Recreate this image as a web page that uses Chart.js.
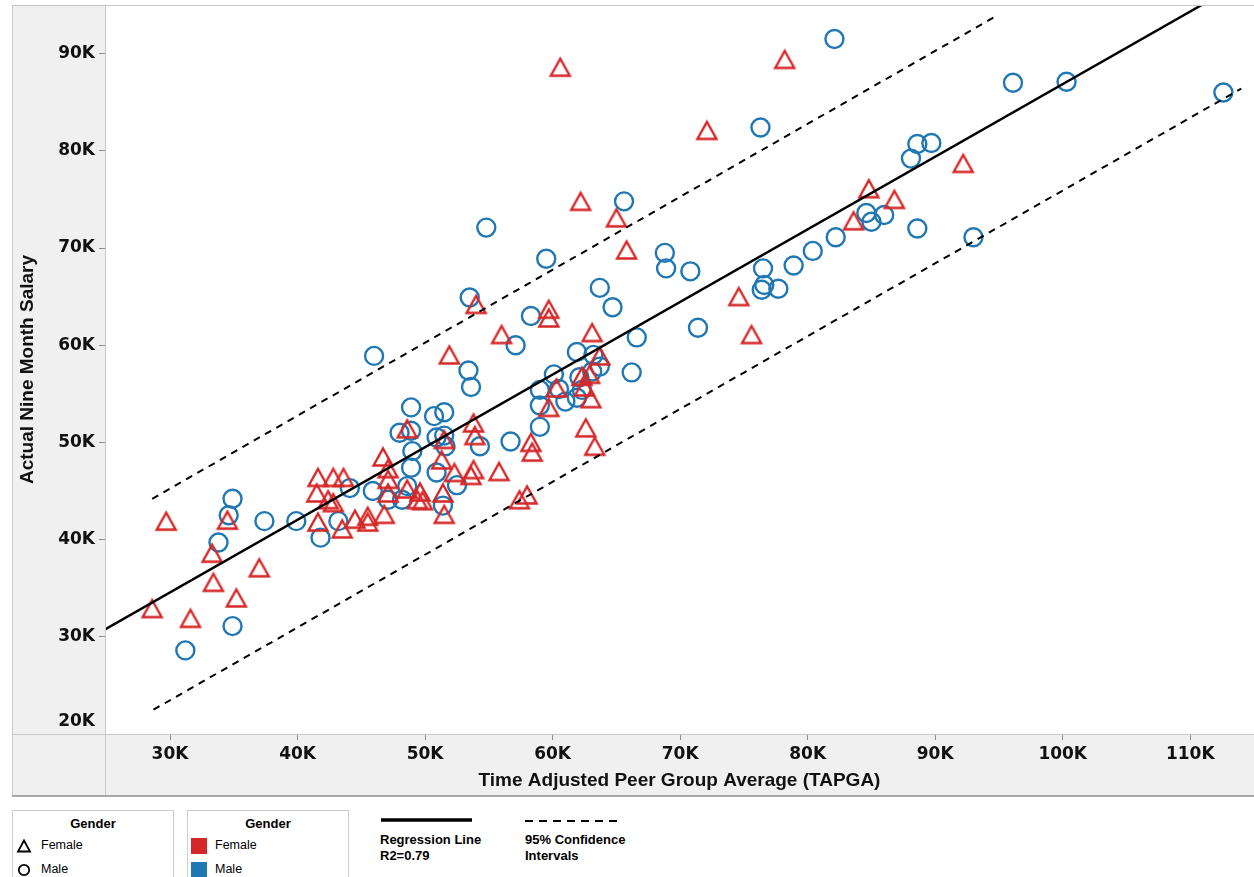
<!DOCTYPE html>
<html>
<head>
<meta charset="utf-8">
<script src="https://cdn.jsdelivr.net/npm/chart.js@4.4.1/dist/chart.umd.min.js"></script>
<style>
  html, body { margin: 0; padding: 0; background: #fff; }
  body { width: 1254px; height: 877px; position: relative; overflow: hidden; font-family: "Liberation Sans", Arial, sans-serif; color: #000; }
  #wrap { position: absolute; left: 12px; top: 5px; width: 1242px; height: 792px; }
  .box { position: absolute; top: 810px; width: 160px; height: 80px; border: 1px solid #cfcfcf; background: #fff; }
  .box .hd { position: absolute; top: 5px; left: 0; width: 100%; text-align: center; font-weight: bold; font-size: 13px; }
  .row { position: absolute; left: 0; font-size: 12.5px; }
  .row svg, .row span.sw { position: absolute; }
  .row .lb { position: absolute; white-space: nowrap; }
  .lg { position: absolute; font-weight: bold; font-size: 13px; line-height: 16px; }
</style>
</head>
<body>
<div id="wrap"><canvas id="grafica"></canvas></div>

<div class="box" style="left:12px;">
  <div class="hd">Gender</div>
  <div class="row" style="top:27px;">
    <svg width="16" height="14" style="left:3px;top:1px;"><path d="M8 1.5 L14 12.5 L2 12.5 Z" fill="none" stroke="#000" stroke-width="1.8"/></svg>
    <span class="lb" style="left:28px;top:0;">Female</span>
  </div>
  <div class="row" style="top:51px;">
    <svg width="16" height="14" style="left:3px;top:1px;"><circle cx="8" cy="7" r="5.2" fill="none" stroke="#000" stroke-width="1.8"/></svg>
    <span class="lb" style="left:28px;top:0;">Male</span>
  </div>
</div>

<div class="box" style="left:187px;">
  <div class="hd">Gender</div>
  <div class="row" style="top:27px;">
    <span class="sw" style="left:3px;top:0;width:16px;height:16px;background:#d62728;"></span>
    <span class="lb" style="left:27px;top:0;">Female</span>
  </div>
  <div class="row" style="top:51px;">
    <span class="sw" style="left:3px;top:0;width:16px;height:16px;background:#1f77b4;"></span>
    <span class="lb" style="left:27px;top:0;">Male</span>
  </div>
</div>

<svg style="position:absolute;left:380px;top:815px;" width="100" height="10"><line x1="1" y1="5" x2="92" y2="5" stroke="#000" stroke-width="3.5"/></svg>
<div class="lg" style="left:380px;top:832px;">Regression Line<br>R2=0.79</div>

<svg style="position:absolute;left:525px;top:815px;" width="100" height="10"><line x1="0" y1="6" x2="94" y2="6" stroke="#000" stroke-width="2" stroke-dasharray="8,6"/></svg>
<div class="lg" style="left:525px;top:832px;">95% Confidence<br>Intervals</div>

<script>
// valores en miles (K)
const femaleX = [28.6, 29.7, 31.6, 33.3, 33.4, 34.5, 35.2, 37.0, 41.6, 42.8, 43.6, 41.5, 42.4, 42.8, 41.6, 43.5, 44.5, 45.5, 45.5, 46.8,
                 46.7, 47.1, 47.1, 47.1, 48.6, 48.6, 49.6, 49.4, 49.8, 51.3, 51.5, 51.4, 51.5, 52.3, 53.8, 53.9, 53.8, 53.6, 55.8, 58.3,
                 58.4, 57.4, 58.0, 59.7, 60.3, 62.3, 62.9, 62.5, 63.0, 62.6, 63.3, 63.1, 63.7, 59.7, 59.7, 56.0, 54.0, 51.9, 60.6, 62.2,
                 65.0, 65.8, 72.1, 78.2, 74.6, 75.6, 83.6, 84.8, 86.8, 92.2];
const femaleY = [32.9, 41.9, 31.9, 38.6, 35.6, 42.0, 34.0, 37.1, 46.4, 46.4, 46.4, 44.8, 44.1, 43.8, 41.8, 41.1, 42.1, 42.4, 41.8, 42.6,
                 48.5, 47.3, 46.2, 44.8, 51.4, 45.2, 44.9, 44.1, 44.0, 48.2, 50.3, 44.8, 42.6, 46.9, 52.0, 50.7, 47.2, 46.6, 47.0, 50.0,
                 49.0, 44.1, 44.6, 53.6, 55.6, 56.8, 57.0, 55.7, 54.5, 51.5, 49.6, 61.3, 58.9, 63.7, 62.8, 61.1, 64.2, 59.0, 88.6, 74.8,
                 73.1, 69.8, 82.1, 89.4, 65.0, 61.1, 72.8, 76.1, 75.0, 78.7];

const maleX = [31.2, 34.9, 33.8, 34.6, 34.9, 37.4, 39.9, 41.8, 43.2, 44.1, 45.9, 47.1, 48.2, 48.6, 48.9, 49.0, 48.9, 48.0, 48.9, 50.7,
               51.5, 50.9, 51.5, 51.6, 50.9, 52.5, 51.4, 54.3, 56.7, 59.0, 59.0, 59.0, 60.1, 60.5, 61.0, 61.9, 62.1, 62.3, 61.9, 63.2,
               63.7, 63.1, 66.2, 66.6, 57.1, 53.4, 53.6, 53.5, 58.3, 59.5, 54.8, 63.7, 64.7, 65.6, 46.0, 68.8, 68.9, 70.8, 71.4, 76.3,
               76.5, 76.6, 76.4, 77.7, 78.9, 80.4, 82.2, 84.6, 85.0, 86.0, 88.1, 88.6, 89.7, 88.6, 93.0, 82.1, 96.1, 100.3, 112.6];
const maleY = [28.6, 31.1, 39.7, 42.5, 44.2, 41.9, 41.9, 40.2, 41.9, 45.3, 45.0, 44.1, 44.1, 45.5, 47.4, 49.1, 51.2, 51.0, 53.6, 52.7,
               53.1, 50.5, 50.7, 49.6, 46.9, 45.6, 43.5, 49.6, 50.1, 51.6, 53.8, 55.4, 57.0, 55.5, 54.2, 54.6, 56.7, 55.4, 59.3, 59.0,
               57.8, 57.3, 57.2, 60.8, 60.0, 57.4, 55.7, 64.9, 63.0, 68.9, 72.1, 65.9, 63.9, 74.8, 58.9, 69.5, 67.9, 67.6, 61.8, 82.4,
               67.9, 66.2, 65.7, 65.8, 68.2, 69.7, 71.1, 73.6, 72.7, 73.4, 79.2, 80.7, 80.8, 72.0, 71.1, 91.5, 87.0, 87.1, 86.0];

// extremos de las rectas
const regX = [24.9, 110.9];
const regY = [30.75, 95.0];
const upperX = [28.6, 94.7];
const upperY = [44.2, 93.8];
const lowerX = [28.7, 114.0];
const lowerY = [22.5, 86.4];

// ejes y marcas
const xMin = 24.9, xMax = 115.0;
const yMin = 20, yMax = 95;
const xTickValues = [30, 40, 50, 60, 70, 80, 90, 100, 110];
const yTickValues = [20, 30, 40, 50, 60, 70, 80, 90];
const tickSuffix = 'K';

const RED = '#d62728';
const BLUE = '#1f77b4';

function toPoints(xs, ys) {
    return xs.map((x, i) => ({ x: x, y: ys[i] }));
}

function makeTriangle(color) {
    const c = document.createElement('canvas');
    c.width = 26;
    c.height = 26;
    const g = c.getContext('2d');
    g.strokeStyle = color;
    g.lineWidth = 2.4;
    g.lineJoin = 'miter';
    g.beginPath();
    g.moveTo(13, 4.5);
    g.lineTo(22.5, 21.5);
    g.lineTo(3.5, 21.5);
    g.closePath();
    g.stroke();
    return c;
}

const tickFont = { family: 'DejaVu Sans', size: 17, weight: 'bold' };
const titleFont = { family: 'Liberation Sans', size: 19, weight: 'bold' };

// fondo gris de los paneles, area blanca y bordes
const panelPlugin = {
    id: 'panels',
    beforeDraw(chart) {
        const { ctx, chartArea: a, width, height } = chart;
        ctx.save();
        ctx.fillStyle = '#f0f0f0';
        ctx.fillRect(0, 0, width, height);
        ctx.fillStyle = '#ffffff';
        ctx.fillRect(a.left, a.top, a.right - a.left, a.bottom - a.top);
        ctx.restore();
    },
    afterDraw(chart) {
        const { ctx, chartArea: a, width, height } = chart;
        ctx.save();
        ctx.strokeStyle = '#c8c8c8';
        ctx.lineWidth = 1;
        ctx.beginPath();
        ctx.moveTo(0.5, 0); ctx.lineTo(0.5, height);
        ctx.moveTo(0, 0.5); ctx.lineTo(width, 0.5);
        ctx.moveTo(Math.round(a.left) + 0.5, 0); ctx.lineTo(Math.round(a.left) + 0.5, height);
        ctx.moveTo(0, Math.round(a.bottom) + 0.5); ctx.lineTo(width, Math.round(a.bottom) + 0.5);
        ctx.stroke();
        ctx.strokeStyle = '#a8a8a8';
        ctx.lineWidth = 2;
        ctx.beginPath();
        ctx.moveTo(0, height - 1); ctx.lineTo(width, height - 1);
        ctx.stroke();

        // etiqueta 20K desplazada hacia arriba como en Tableau
        const yScale = chart.scales.y;
        ctx.fillStyle = '#111';
        ctx.font = 'bold 17px "DejaVu Sans"';
        ctx.textAlign = 'right';
        ctx.textBaseline = 'middle';
        ctx.fillText(yMin + tickSuffix, a.left - 10, yScale.getPixelForValue(yMin) - 12);
        ctx.restore();
    }
};

const ctx = document.getElementById('grafica').getContext('2d');

new Chart(ctx, {
    type: 'scatter',
    data: {
        datasets: [
            {
                label: 'Regression Line',
                data: toPoints(regX, regY),
                showLine: true,
                borderColor: '#000',
                borderWidth: 2.5,
                pointRadius: 0
            },
            {
                label: '95% Upper',
                data: toPoints(upperX, upperY),
                showLine: true,
                borderColor: '#000',
                borderWidth: 2,
                borderDash: [7, 6],
                pointRadius: 0
            },
            {
                label: '95% Lower',
                data: toPoints(lowerX, lowerY),
                showLine: true,
                borderColor: '#000',
                borderWidth: 2,
                borderDash: [7, 6],
                pointRadius: 0
            },
            {
                label: 'Female',
                data: toPoints(femaleX, femaleY),
                pointStyle: makeTriangle(RED),
                borderColor: RED,
                backgroundColor: 'rgba(0,0,0,0)'
            },
            {
                label: 'Male',
                data: toPoints(maleX, maleY),
                pointStyle: 'circle',
                pointRadius: 9,
                borderWidth: 2.4,
                borderColor: BLUE,
                backgroundColor: 'rgba(0,0,0,0)'
            }
        ]
    },
    options: {
        responsive: true,
        maintainAspectRatio: false,
        animation: false,
        events: [],
        layout: { padding: 0, autoPadding: false },
        plugins: {
            legend: { display: false },
            tooltip: { enabled: false }
        },
        scales: {
            x: {
                type: 'linear',
                min: xMin,
                max: xMax,
                afterBuildTicks(s) { s.ticks = xTickValues.map(v => ({ value: v })); },
                afterFit(s) {
                    s.height = 63;
                    s.paddingLeft = 0;
                    s.paddingRight = 0;
                },
                ticks: {
                    autoSkip: false,
                    maxRotation: 0,
                    minRotation: 0,
                    padding: 4,
                    color: '#111',
                    font: tickFont,
                    callback: v => v + tickSuffix
                },
                grid: { drawOnChartArea: false, tickLength: 6, tickColor: '#8c8c8c' },
                border: { display: false },
                title: {
                    display: true,
                    text: 'Time Adjusted Peer Group Average (TAPGA)',
                    color: '#111',
                    font: titleFont,
                    padding: { top: 5, bottom: 5 }
                }
            },
            y: {
                type: 'linear',
                min: yMin,
                max: yMax,
                afterBuildTicks(s) { s.ticks = yTickValues.map(v => ({ value: v })); },
                afterFit(s) {
                    s.width = 93;
                    s.paddingTop = 0;
                    s.paddingBottom = 0;
                },
                ticks: {
                    autoSkip: false,
                    padding: 4,
                    color: '#111',
                    font: tickFont,
                    callback: v => (v === yMin ? '' : v + tickSuffix)
                },
                grid: { drawOnChartArea: false, tickLength: 6, tickColor: '#8c8c8c' },
                border: { display: false },
                title: {
                    display: true,
                    text: 'Actual Nine Month Salary',
                    color: '#111',
                    font: titleFont,
                    padding: { top: 4, bottom: 0 }
                }
            }
        }
    },
    plugins: [panelPlugin]
});
</script>
</body>
</html>
